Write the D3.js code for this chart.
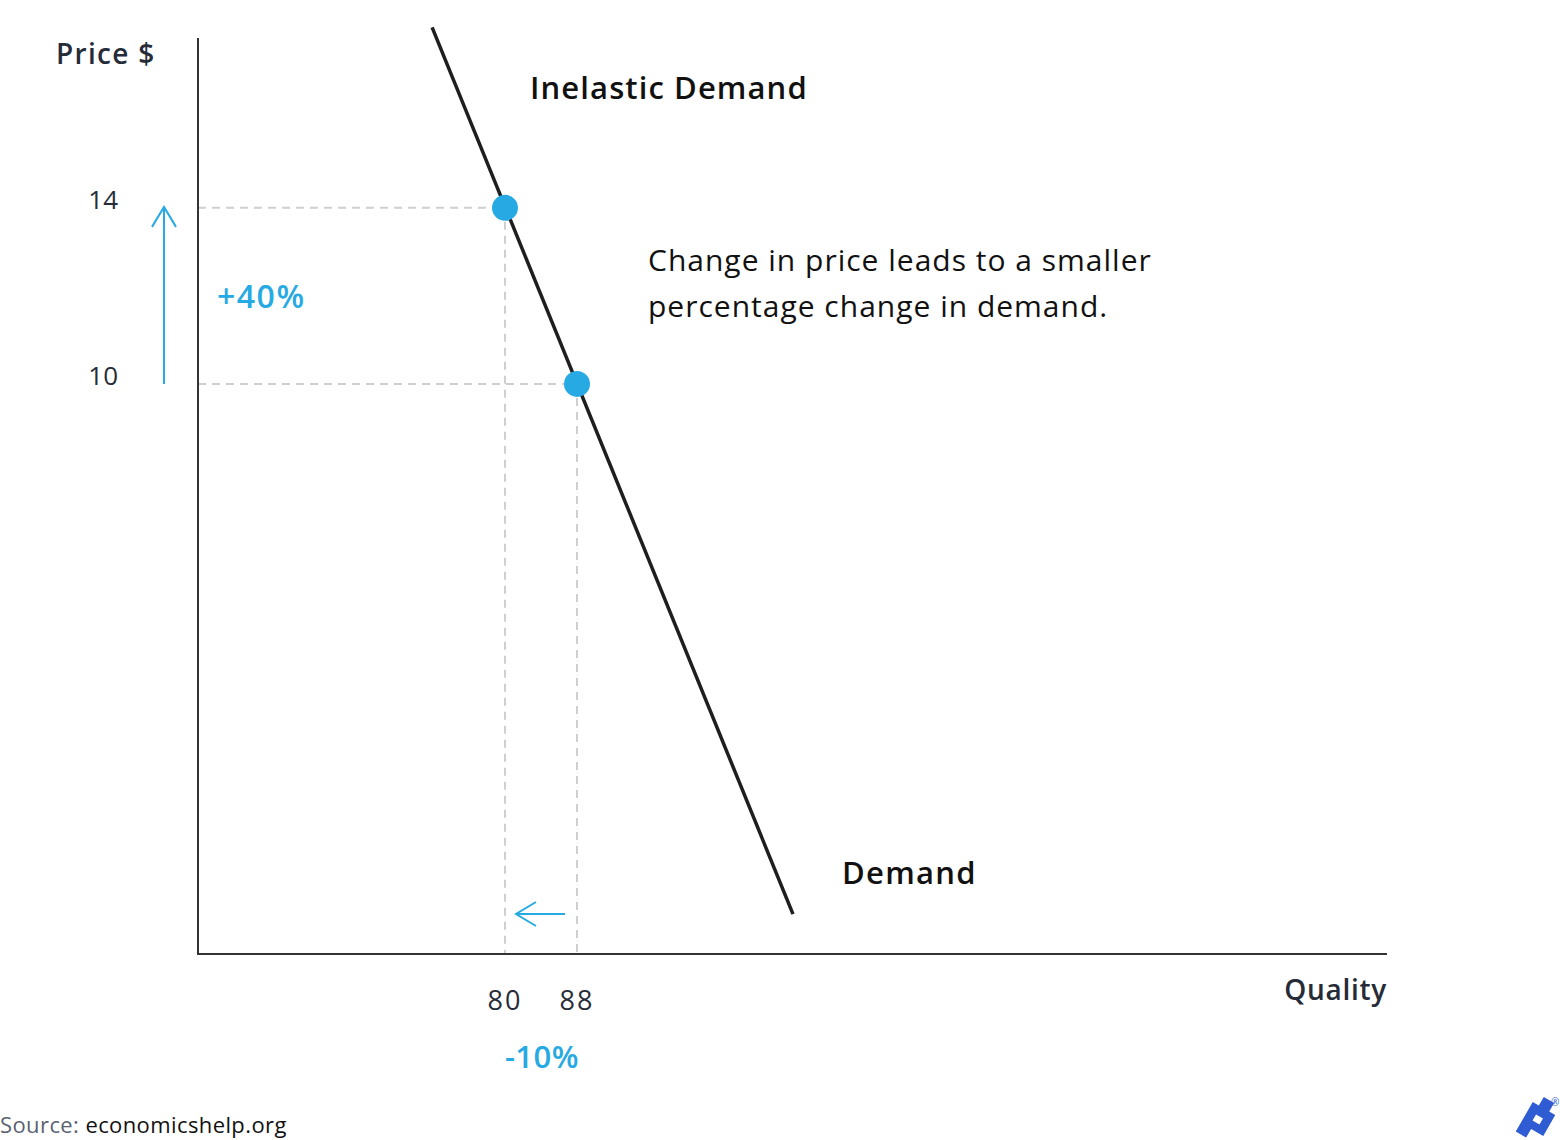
<!DOCTYPE html>
<html><head><meta charset="utf-8">
<script src="https://cdn.jsdelivr.net/npm/d3@7"></script>
<style>body{margin:0;background:#fff}svg{display:block}text{font-family:"Open Sans",Lato,sans-serif}</style>
</head><body>
<svg id="c" width="1560" height="1140"></svg>
<script>
// Data
const demandLine = [{q: 71.9, p: 18.1}, {q: 112, p: -2.05}];
const points = [{q: 80, p: 14}, {q: 88, p: 10}];
const xTickLabels = ["80", "88"];
const yTickLabels = ["14", "10"];
const priceChange = "+40%";
const quantityChange = "-10%";

const svg = d3.select("#c");
const x = d3.scaleLinear().domain([45.89, 178]).range([198, 1387]);
const y = d3.scaleLinear().domain([-2.955, 17.86]).range([954, 38]);
const dark = "#262b38", blue = "#27aae3";

// guides
points.forEach(d => {
  svg.append("line").attr("x1", x.range()[0]).attr("x2", x(d.q)).attr("y1", y(d.p)).attr("y2", y(d.p))
    .attr("stroke", "#cfcfcf").attr("stroke-width", 2).attr("stroke-dasharray", "8,6");
  svg.append("line").attr("x1", x(d.q)).attr("x2", x(d.q)).attr("y1", y(d.p)).attr("y2", y.range()[0])
    .attr("stroke", "#cfcfcf").attr("stroke-width", 2).attr("stroke-dasharray", "8,6");
});

// axes
svg.append("line").attr("x1", 198).attr("x2", 198).attr("y1", 38).attr("y2", 954).attr("stroke", "#333").attr("stroke-width", 2);
svg.append("line").attr("x1", 197).attr("x2", 1387).attr("y1", 954).attr("y2", 954).attr("stroke", "#333").attr("stroke-width", 2);

// demand line
const line = d3.line().x(d => x(d.q)).y(d => y(d.p));
svg.append("path").attr("d", line(demandLine)).attr("stroke", "#1e1e1e").attr("stroke-width", 3.5).attr("fill", "none");

// points
svg.selectAll("circle.pt").data(points).join("circle").attr("class", "pt")
  .attr("cx", d => x(d.q)).attr("cy", d => y(d.p)).attr("r", 13).attr("fill", blue);

// tick labels
points.forEach((d, i) => {
  svg.append("text").attr("x", 118).attr("y", y(d.p) + 1).attr("text-anchor", "end")
    .attr("font-size", 26).attr("fill", dark).text(yTickLabels[i]);
  svg.append("text").attr("x", x(d.q)).attr("y", 1010).attr("text-anchor", "middle")
    .attr("font-size", 27).attr("letter-spacing", 2).attr("fill", dark).text(xTickLabels[i]);
});

// arrows
const ax = 164;
svg.append("line").attr("x1", ax).attr("x2", ax).attr("y1", y(points[1].p)).attr("y2", y(points[0].p) - 1).attr("stroke", blue).attr("stroke-width", 2);
svg.append("path").attr("d", `M${ax-12},${y(points[0].p)+19}L${ax},${y(points[0].p)-1}L${ax+12},${y(points[0].p)+19}`).attr("stroke", blue).attr("stroke-width", 2).attr("fill", "none");
const ay = 914;
svg.append("line").attr("x1", x(points[1].q) - 12).attr("x2", x(points[0].q) + 11).attr("y1", ay).attr("y2", ay).attr("stroke", blue).attr("stroke-width", 2);
svg.append("path").attr("d", `M${x(points[0].q)+31},${ay-12}L${x(points[0].q)+11},${ay}L${x(points[0].q)+31},${ay+12}`).attr("stroke", blue).attr("stroke-width", 2).attr("fill", "none");

// labels
svg.append("text").attr("x", 56).attr("y", 64).attr("font-size", 28).attr("letter-spacing", 1.3).attr("font-weight", 600).attr("fill", dark).text("Price $");
svg.append("text").attr("x", 1387).attr("y", 1000).attr("text-anchor", "end").attr("font-size", 28).attr("letter-spacing", 0.7).attr("font-weight", 600).attr("fill", dark).text("Quality");
svg.append("text").attr("x", 530).attr("y", 99).attr("font-size", 31).attr("letter-spacing", 1.1).attr("font-weight", 600).attr("fill", "#111").text("Inelastic Demand");
svg.append("text").attr("x", 842).attr("y", 884).attr("font-size", 31).attr("letter-spacing", 1.3).attr("font-weight", 600).attr("fill", "#111").text("Demand");
svg.append("text").attr("x", 648).attr("y", 271).attr("font-size", 30).attr("letter-spacing", 1).attr("fill", "#111").text("Change in price leads to a smaller");
svg.append("text").attr("x", 648).attr("y", 317).attr("font-size", 30).attr("letter-spacing", 1).attr("fill", "#111").text("percentage change in demand.");
svg.append("text").attr("x", 217).attr("y", 308).attr("font-size", 32).attr("letter-spacing", 1.5).attr("font-weight", 600).attr("fill", blue).text(priceChange);
svg.append("text").attr("x", 542).attr("y", 1068).attr("text-anchor", "middle").attr("font-size", 31).attr("letter-spacing", 0.5).attr("font-weight", 600).attr("fill", blue).text(quantityChange);

// source
const src = svg.append("text").attr("x", 0).attr("y", 1133).attr("font-size", 22).attr("letter-spacing", 0.4);
src.append("tspan").attr("fill", "#5a6272").text("Source: ");
src.append("tspan").attr("fill", "#111").text("economicshelp.org");

// logo
const lg = svg.append("g").attr("transform", "translate(1538,1119) rotate(30)");
lg.append("path").attr("fill", "#2f5bd3").attr("fill-rule", "evenodd")
  .attr("d", "M-6,-22 L6,-22 L6,-12 L13,-12 L13,12 L-1,12 L-1,22 L-13,22 L-13,-12 L-6,-12 Z M-4,-3 L-4,4 L4,4 L4,-3 Z");
svg.append("text").attr("x", 1551).attr("y", 1106).attr("font-size", 10).attr("fill", "#2f5bd3").text("®");
</script>
</body></html>
